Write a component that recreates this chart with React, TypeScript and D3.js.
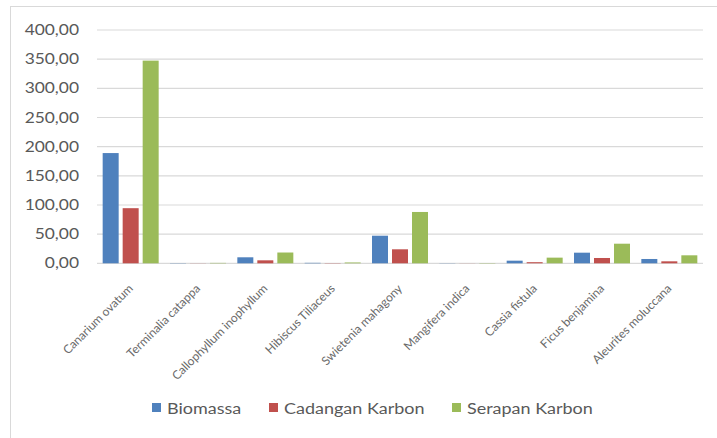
import React from "react";
import * as d3 from "d3";

const categories = [
  "Canarium ovatum",
  "Terminalia catappa",
  "Callophyllum inophyllum",
  "Hibiscus Tiliaceus",
  "Swietenia mahagony",
  "Mangifera indica",
  "Cassia fistula",
  "Ficus benjamina",
  "Aleurites moluccana",
];
const seriesNames = ["Biomassa", "Cadangan Karbon", "Serapan Karbon"];
const biomassa = [189, 0.4, 10.3, 0.8, 47.3, 0.3, 4.5, 18.2, 7.4];
const cadangan = [94.5, 0.2, 5.1, 0.4, 24, 0.15, 1.9, 9.1, 3.4];
const serapan = [347.5, 0.7, 18.5, 1.4, 88, 0.5, 9.7, 33.6, 13.7];
const yTicks = [0, 50, 100, 150, 200, 250, 300, 350, 400];
const colors = ["#4F81BD", "#C0504D", "#9BBB59"];

export default function App() {
  const W = 717;
  const H = 438;
  const left = 97;
  const right = 703;
  const top = 30;
  const bottom = 263.3;
  const font = "Lato, 'Open Sans', sans-serif";
  const series = [biomassa, cadangan, serapan];
  const sx = 1.2;

  const x0 = d3.scaleBand<string>().domain(categories).range([left, right]).padding(0);
  const x1 = d3.scaleBand<string>().domain(seriesNames).range([0, 56]).paddingInner(0.2);
  const y = d3.scaleLinear().domain([0, 400]).range([bottom, top]);
  const fmt = (v: number) => d3.format(".2f")(v).replace(".", ",");

  const legendX = [152, 269, 452];

  return (
    <svg
      width={W}
      height={H}
      style={{ position: "absolute", left: 0, top: 0, background: "#fff" }}
      fontFamily={font}
    >
      <rect x={10.5} y={6.5} width={720} height={440} fill="#fff" stroke="#d9d9d9" strokeWidth={1} />
      {yTicks.map((t) => (
        <g key={t}>
          <line x1={left} x2={right} y1={y(t)} y2={y(t)} stroke="#d9d9d9" strokeWidth={1.2} />
          <text
            transform={`translate(79,${y(t)}) scale(${sx},1)`}
            dy="0.35em"
            textAnchor="end"
            fontSize={14.5}
            fill="#595959"
          >
            {fmt(t)}
          </text>
        </g>
      ))}
      {categories.map((c, i) => {
        const cx = (x0(c) as number) + x0.bandwidth() / 2;
        const gx = cx - 28;
        return (
          <g key={c}>
            {seriesNames.map((s, j) => {
              const v = series[j][i];
              return (
                <rect
                  key={s}
                  x={gx + (x1(s) as number)}
                  y={y(v)}
                  width={x1.bandwidth()}
                  height={y(0) - y(v)}
                  fill={colors[j]}
                />
              );
            })}
            <text
              transform={`translate(${cx + 3},${bottom + 26}) rotate(-45)`}
              textAnchor="end"
              fontSize={12}
              fill="#6a6a6a"
            >
              {c}
            </text>
          </g>
        );
      })}
      {seriesNames.map((s, j) => (
        <g key={s}>
          <rect x={legendX[j]} y={403} width={9} height={9} fill={colors[j]} />
          <text
            transform={`translate(${legendX[j] + 15},413.5) scale(${sx},1)`}
            fontSize={15}
            fill="#595959"
          >
            {s}
          </text>
        </g>
      ))}
    </svg>
  );
}
